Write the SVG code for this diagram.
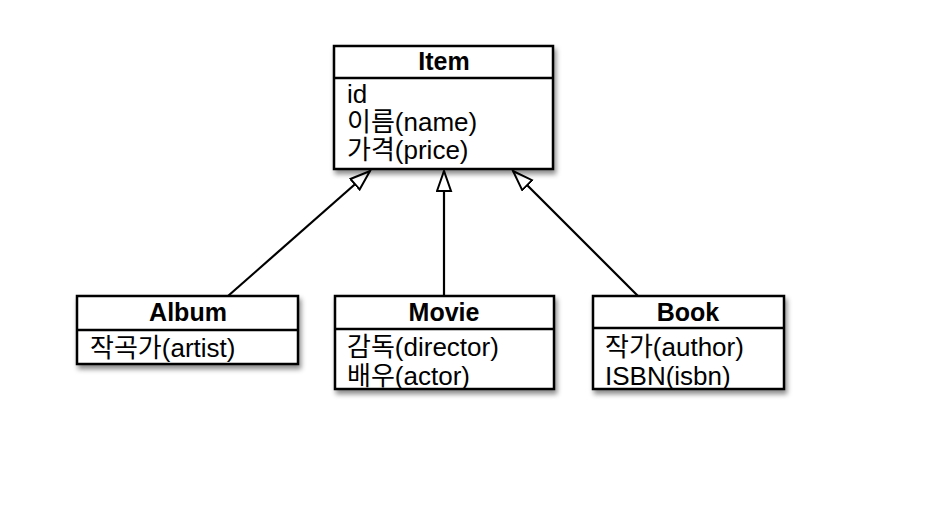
<svg xmlns="http://www.w3.org/2000/svg" width="935" height="513" viewBox="0 0 935 513">
<style>
.box{fill:#fff;stroke:#000;stroke-width:2.5}
.div{stroke:#000;stroke-width:2.5}
.title{font-family:"Liberation Sans","Noto Sans CJK KR",sans-serif;font-weight:bold;font-size:25px;text-anchor:middle;fill:#000}
.attr{font-family:"Liberation Sans","Noto Sans CJK KR",sans-serif;font-size:26px;fill:#000}
.edge{stroke:#000;stroke-width:2.2;fill:none;marker-end:url(#tri)}
</style>
<defs>
<filter id="sh" x="-10%" y="-10%" width="130%" height="140%">
<feDropShadow dx="2" dy="4" stdDeviation="2.5" flood-color="#000" flood-opacity="0.45"/>
</filter>
<marker id="tri" markerUnits="userSpaceOnUse" markerWidth="24" markerHeight="20" refX="21" refY="8" orient="auto">
<path d="M1,1 L21,8 L1,15 Z" fill="#fff" stroke="#000" stroke-width="2"/>
</marker>
</defs>
<rect width="935" height="513" fill="#fff"/>
<g id="connectors">
<line class="edge" x1="228" y1="296" x2="370" y2="171"/>
<line class="edge" x1="444" y1="296" x2="444" y2="171"/>
<line class="edge" x1="638" y1="296" x2="513" y2="171"/>
</g>
<g id="item">
<rect class="box" x="334" y="46" width="219" height="123" filter="url(#sh)"/>
<line class="div" x1="334" y1="78" x2="553" y2="78"/>
<text class="title" x="444" y="70">Item</text>
<text class="attr" x="347" y="103">id</text>
<text class="attr" x="347" y="131">이름(name)</text>
<text class="attr" x="347" y="159">가격(price)</text>
</g>
<g id="album">
<rect class="box" x="77" y="296" width="221" height="68" filter="url(#sh)"/>
<line class="div" x1="77" y1="330" x2="298" y2="330"/>
<text class="title" x="188" y="321">Album</text>
<text class="attr" x="90" y="357">작곡가(artist)</text>
</g>
<g id="movie">
<rect class="box" x="335" y="296" width="219" height="93" filter="url(#sh)"/>
<line class="div" x1="335" y1="329" x2="554" y2="329"/>
<text class="title" x="444" y="321">Movie</text>
<text class="attr" x="347" y="356">감독(director)</text>
<text class="attr" x="347" y="385">배우(actor)</text>
</g>
<g id="book">
<rect class="box" x="593" y="296" width="191" height="93" filter="url(#sh)"/>
<line class="div" x1="593" y1="328" x2="784" y2="328"/>
<text class="title" x="688" y="321">Book</text>
<text class="attr" x="605" y="356">작가(author)</text>
<text class="attr" x="605" y="385">ISBN(isbn)</text>
</g>
</svg>
